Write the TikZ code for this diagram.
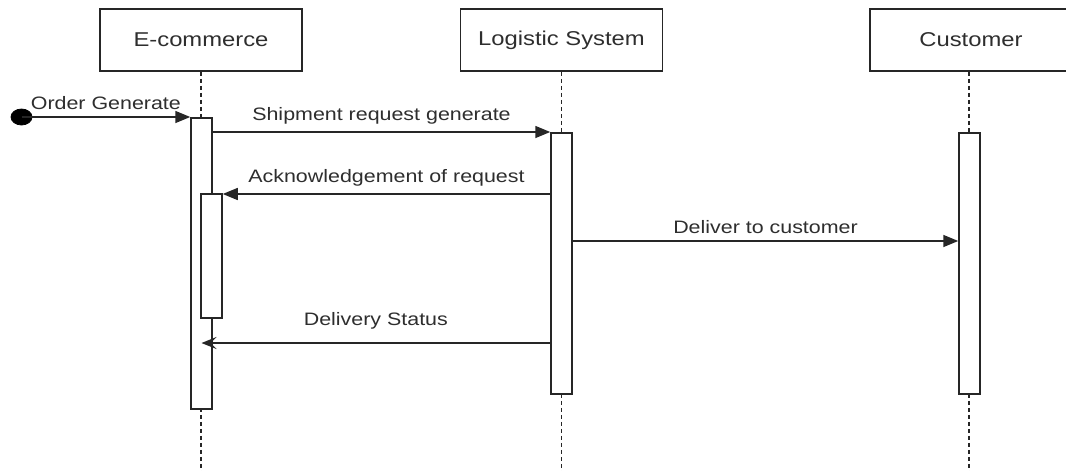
\documentclass[tikz,border=0pt]{standalone}
\usepackage{fontspec}
\setmainfont{Liberation Sans}[FakeStretch=1.19]
\usetikzlibrary{arrows.meta,shapes.geometric}
\begin{document}
\begin{tikzpicture}[x=1pt,y=-1pt,
  line width=1.5pt,
  actor/.style={draw=black!85, fill=white, minimum width=202pt, minimum height=62pt,
    inner sep=0pt, font=\fontsize{20}{24}\selectfont, text=black!82},
  lifeline/.style={draw=black!85, line width=1.4pt, dash pattern=on 4pt off 3pt},
  bar/.style={draw=black!85, fill=white, minimum width=21pt, inner sep=0pt, anchor=north},
  msg/.style={draw=black!85, -{Triangle[length=15pt,width=12pt]}},
  reply/.style={draw=black!85, -{Stealth[length=15pt,width=12pt,inset=6pt]}},
  lbl/.style={font=\fontsize{18}{22}\selectfont, text=black!82, inner sep=0pt}
]
\clip (0,0) rectangle (1066,471);
\fill[white] (0,0) rectangle (1066,471);

% participants
\node[actor] (ec)  at (201,40)   {E-commerce};
\node[actor] (ls)  at (561.5,40) {Logistic System};
\node[actor] (cu)  at (971,40)   {Customer};

% lifelines
\coordinate (ecEnd) at (201,471);
\coordinate (lsEnd) at (561.5,471);
\coordinate (cuEnd) at (969,471);
\draw[lifeline] (ec.south) -- (ecEnd);
\draw[lifeline] (ls.south) -- (lsEnd);
\draw[lifeline] (cu.south -| cuEnd) -- (cuEnd);

% activation bars
\node[bar, minimum height=291pt] (ecA) at (201.5,117) {};
\node[bar, minimum height=124pt] (ecB) at (211.5,193) {};
\node[bar, minimum height=261pt] (lsA) at (561.5,132) {};
\node[bar, minimum height=261pt] (cuA) at (969.5,132) {};

% start point
\node[ellipse, draw=black, fill=black, line width=0.8pt, minimum width=21pt, minimum height=16pt, inner sep=0pt] (start) at (21.5,117) {};

% messages
\draw[msg] (start.center) -- (ecA.north west)
  node[lbl, pos=0.5, above=7pt] {Order Generate};
\draw[msg] (ecA.east |- 0,132) -- (lsA.north west)
  node[lbl, midway, above=7pt] {Shipment request generate};
\draw[msg] (lsA.west |- 0,194) -- (ecB.north east |- 0,194)
  node[lbl, midway, above=7pt] {Acknowledgement of request};
\draw[msg] (lsA.east |- 0,241) -- (cuA.west |- 0,241)
  node[lbl, midway, above=7pt] {Deliver to customer};
\draw[reply] (lsA.west |- 0,343) -- (ecA.center |- 0,343)
  node[lbl, pos=0.5, above=13pt] {Delivery Status};
\end{tikzpicture}
\end{document}
